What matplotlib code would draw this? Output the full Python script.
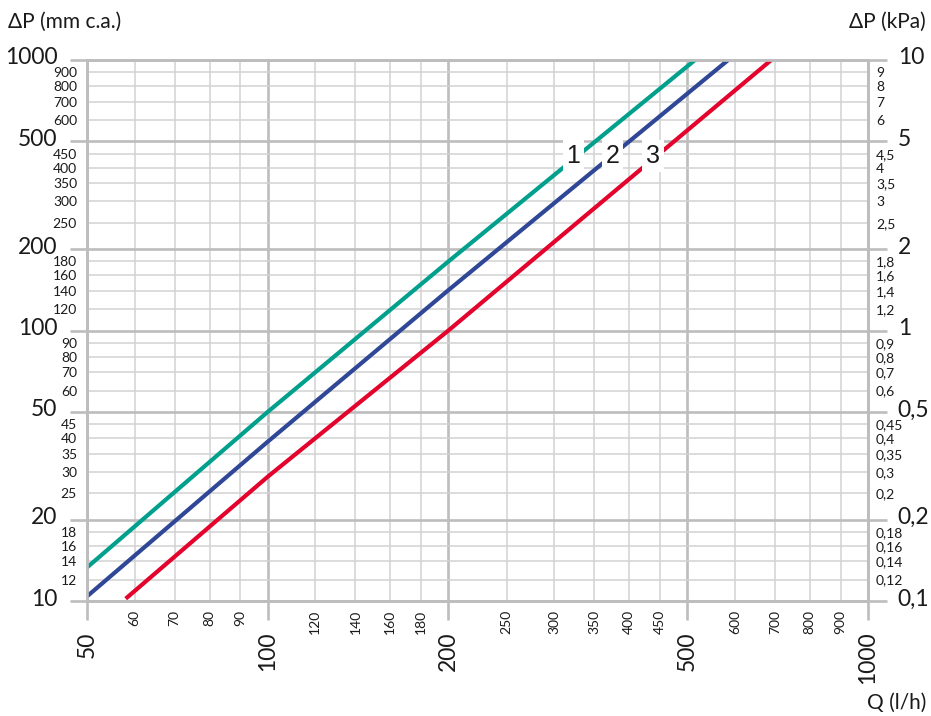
import matplotlib
matplotlib.use("Agg")
import matplotlib.pyplot as plt
import matplotlib.transforms as mtransforms
from matplotlib.ticker import FixedLocator, FixedFormatter

plt.rcParams['font.family'] = ['Lato', 'DejaVu Sans']

# ---- data ----
q_green = [50, 100, 200, 515]
dp_green = [13.3, 50, 180, 1000]
q_blue = [50, 100, 200, 585]
dp_blue = [10.4, 38.8, 141, 1000]
q_red = [58, 100, 200, 690]
dp_red = [10.2, 28.8, 100, 1000]

x_major = [50, 100, 200, 500, 1000]
x_major_labels = ["50", "100", "200", "500", "1000"]
x_minor = [60, 70, 80, 90, 120, 140, 160, 180, 250, 300, 350, 400, 450,
           600, 700, 800, 900]
x_minor_labels = [str(v) for v in x_minor]

y_major = [10, 20, 50, 100, 200, 500, 1000]
y_major_labels = ["10", "20", "50", "100", "200", "500", "1000"]
y_major_kpa = ["0,1", "0,2", "0,5", "1", "2", "5", "10"]
y_minor = [12, 14, 16, 18, 25, 30, 35, 40, 45, 60, 70, 80, 90,
           120, 140, 160, 180, 250, 300, 350, 400, 450, 600, 700, 800, 900]
y_minor_labels = [str(v) for v in y_minor]
y_minor_kpa = ["0,12", "0,14", "0,16", "0,18", "0,2", "0,3", "0,35", "0,4", "0,45",
               "0,6", "0,7", "0,8", "0,9", "1,2", "1,4", "1,6", "1,8", "2,5",
               "3", "3,5", "4", "4,5", "6", "7", "8", "9"]

curve_labels = ["1", "2", "3"]
label_q = [323, 375, 438]
label_dp = [441, 441, 441]

col_green = "#00a08c"
col_blue = "#2f4796"
col_red = "#e3032d"
grid_major = "#bdbdbd"
grid_minor = "#d2d2d2"
txt = "#1a1a1a"

fig = plt.figure(figsize=(9.31, 7.16), dpi=100)
ax = fig.add_axes([87 / 931, 1 - 601 / 716, (868 - 87) / 931, (601 - 60) / 716])
ax.set_xscale('log')
ax.set_yscale('log')
ax.set_xlim(50, 1000)
ax.set_ylim(10, 1000)
ax.set_axisbelow(True)

ax.xaxis.set_major_locator(FixedLocator(x_major))
ax.xaxis.set_major_formatter(FixedFormatter(x_major_labels))
ax.xaxis.set_minor_locator(FixedLocator(x_minor))
ax.xaxis.set_minor_formatter(FixedFormatter(x_minor_labels))
ax.yaxis.set_major_locator(FixedLocator(y_major))
ax.yaxis.set_major_formatter(FixedFormatter(y_major_labels))
ax.yaxis.set_minor_locator(FixedLocator(y_minor))
ax.yaxis.set_minor_formatter(FixedFormatter(y_minor_labels))

ax.grid(True, which='major', color=grid_major, lw=1.9)
ax.grid(True, which='minor', color=grid_minor, lw=1.1)
for s in ax.spines.values():
    s.set_color(grid_major)
    s.set_linewidth(1.9)

ax.tick_params(axis='x', which='major', length=13.5, width=1.9, color=grid_major,
               labelsize=16.5, pad=8.5, labelrotation=90, labelcolor=txt)
ax.tick_params(axis='x', which='minor', length=0, labelsize=10, pad=6.5,
               labelrotation=90, labelcolor=txt)
ax.tick_params(axis='y', which='major', length=12, width=1.9, color=grid_major,
               labelsize=16.5, pad=9.4, labelcolor=txt)
ax.tick_params(axis='y', which='minor', length=0, labelsize=10, pad=7.2,
               labelcolor=txt)

shift = mtransforms.ScaledTranslation(0, 4 / 100, fig.dpi_scale_trans)
for lab in ax.yaxis.get_majorticklabels():
    lab.set_transform(lab.get_transform() + shift)

ax2 = ax.twinx()
ax2.set_yscale('log')
ax2.set_ylim(10, 1000)
ax2.yaxis.set_major_locator(FixedLocator(y_major))
ax2.yaxis.set_major_formatter(FixedFormatter(y_major_kpa))
ax2.yaxis.set_minor_locator(FixedLocator(y_minor))
ax2.yaxis.set_minor_formatter(FixedFormatter(y_minor_kpa))
for s in ax2.spines.values():
    s.set_color(grid_major)
    s.set_linewidth(1.9)
ax2.tick_params(axis='y', which='major', length=13.5, width=1.9, color=grid_major,
                labelsize=16.5, pad=8, labelcolor=txt)
ax2.tick_params(axis='y', which='minor', length=0, labelsize=10, pad=5.8,
                labelcolor=txt)
for lab in ax2.yaxis.get_majorticklabels():
    lab.set_transform(lab.get_transform() + shift)

ax.plot(q_green, dp_green, color=col_green, lw=3, solid_capstyle='butt', zorder=3)
ax.plot(q_blue, dp_blue, color=col_blue, lw=3, solid_capstyle='butt', zorder=3)
ax.plot(q_red, dp_red, color=col_red, lw=3, solid_capstyle='butt', zorder=3)

for t, xq, yd in zip(curve_labels, label_q, label_dp):
    ax.text(xq, yd, t, fontsize=18, family=['Liberation Sans', 'DejaVu Sans'],
            ha='center', va='center', color=txt, zorder=5,
            bbox=dict(boxstyle='square,pad=0.15', fc='white', ec='none'))

fig.text(8 / 931, 1 - 22 / 716, "ΔP (mm c.a.)", fontsize=15, ha='left', va='center',
         color=txt)
fig.text(926 / 931, 1 - 22 / 716, "ΔP (kPa)", fontsize=15, ha='right', va='center',
         color=txt)
fig.text(926 / 931, 1 - 703 / 716, "Q (l/h)", fontsize=15, ha='right', va='center',
         color=txt)

fig.savefig("out.png", dpi=100)
